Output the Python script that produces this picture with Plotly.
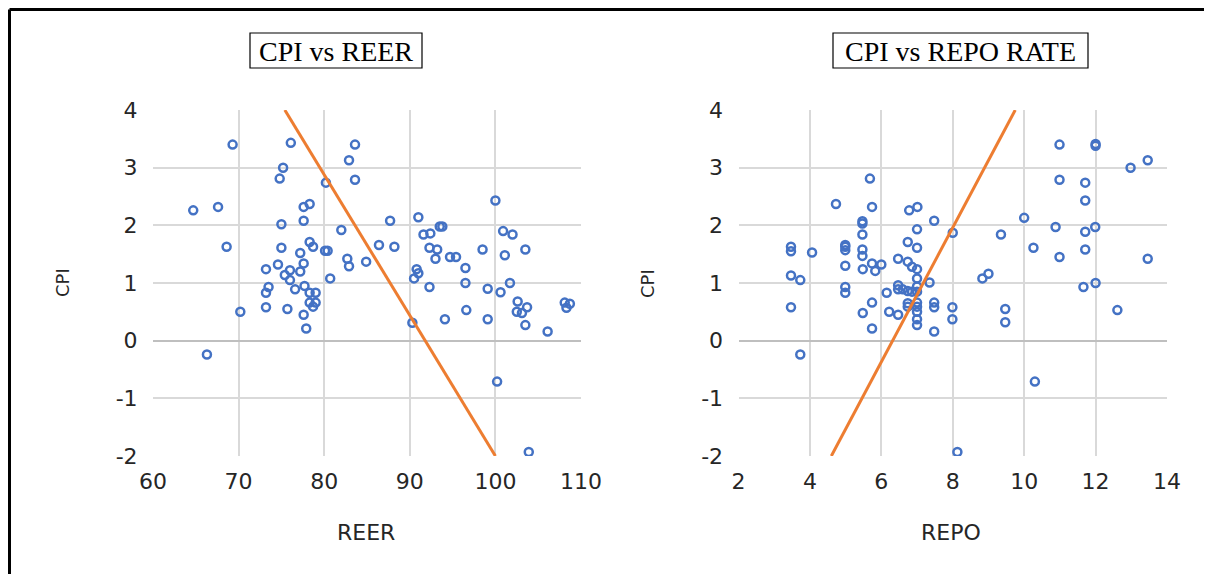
import plotly.graph_objects as go

# ---------------- data ----------------
reer = [69.3, 76.1, 83.6, 82.9, 75.2, 74.8, 80.2, 83.6, 64.7, 67.6, 77.6, 78.3, 77.6, 75.0, 82.0,
        86.4, 68.6, 75.0, 78.3, 78.7, 80.1, 80.4, 77.2, 82.7, 82.9, 84.9, 74.6, 77.6, 73.2, 76.0,
        75.4, 77.2, 76.0, 80.7, 73.5, 73.2, 76.6, 77.7, 78.3, 79.0, 78.3, 79.0, 78.7, 70.2, 73.2,
        75.7, 77.6, 77.9, 66.3, 100.0, 87.7, 91.0, 93.5, 93.8, 91.6, 92.4, 100.9, 102.0, 88.2, 92.3,
        93.2, 98.5, 103.5, 93.0, 94.7, 95.4, 101.1, 96.5, 90.8, 91.0, 90.5, 92.3, 96.5, 99.1, 101.7,
        100.6, 102.6, 103.7, 102.5, 103.1, 103.5, 106.1, 108.1, 108.7, 108.3, 96.6, 94.1, 99.1, 90.3,
        100.2, 103.9]
cpi_reer = [3.40, 3.43, 3.40, 3.13, 3.00, 2.81, 2.74, 2.79, 2.26, 2.32, 2.32, 2.37, 2.08, 2.02, 1.92,
            1.66, 1.63, 1.61, 1.71, 1.63, 1.56, 1.56, 1.52, 1.42, 1.29, 1.37, 1.32, 1.34, 1.24, 1.22,
            1.14, 1.20, 1.05, 1.08, 0.93, 0.83, 0.89, 0.95, 0.83, 0.83, 0.66, 0.66, 0.59, 0.50, 0.58,
            0.55, 0.45, 0.21, -0.24, 2.43, 2.08, 2.14, 1.98, 1.98, 1.84, 1.86, 1.90, 1.84, 1.63, 1.61,
            1.58, 1.58, 1.58, 1.42, 1.45, 1.45, 1.48, 1.26, 1.24, 1.17, 1.08, 0.93, 1.00, 0.90, 1.00,
            0.84, 0.68, 0.58, 0.50, 0.48, 0.27, 0.16, 0.66, 0.64, 0.57, 0.53, 0.37, 0.37, 0.31,
            -0.71, -1.93]

repo = [5.68, 4.73, 5.74, 6.78, 7.01, 7.48, 8.00, 5.47, 5.47, 5.47, 7.00, 6.74, 7.00, 3.47, 3.47,
        4.06, 4.99, 4.99, 4.99, 5.47, 5.47, 5.74, 6.00, 5.83, 4.99, 5.48, 6.47, 6.74, 6.86, 7.00,
        7.00, 7.35, 3.47, 3.73, 4.99, 4.99, 6.47, 6.47, 6.15, 6.60, 6.74, 6.86, 7.00, 7.00, 6.74,
        6.74, 7.00, 7.00, 7.48, 7.48, 7.99, 7.99, 3.47, 5.74, 5.48, 6.22, 6.47, 7.00, 7.00, 7.00,
        5.74, 7.48, 3.73, 8.13, 10.99, 12.00, 12.00, 12.98, 13.46, 10.99, 11.71, 11.71, 10.00, 10.88,
        11.71, 11.99, 9.35, 10.26, 11.71, 10.99, 13.46, 8.83, 9.00, 11.66, 12.00, 9.47, 9.47, 12.61,
        10.30]
cpi_repo = [2.81, 2.37, 2.32, 2.26, 2.32, 2.08, 1.87, 2.07, 2.03, 1.84, 1.93, 1.71, 1.61, 1.63, 1.55,
            1.53, 1.66, 1.63, 1.57, 1.58, 1.47, 1.34, 1.32, 1.21, 1.30, 1.24, 1.42, 1.37, 1.28, 1.24,
            1.08, 1.01, 1.13, 1.05, 0.93, 0.83, 0.96, 0.89, 0.83, 0.89, 0.86, 0.85, 0.94, 0.85, 0.65,
            0.59, 0.66, 0.59, 0.66, 0.58, 0.58, 0.37, 0.58, 0.66, 0.48, 0.50, 0.45, 0.50, 0.37, 0.27,
            0.21, 0.16, -0.24, -1.93, 3.40, 3.41, 3.38, 3.00, 3.13, 2.79, 2.74, 2.43, 2.13, 1.97,
            1.89, 1.97, 1.84, 1.61, 1.58, 1.45, 1.42, 1.08, 1.16, 0.93, 1.00, 0.55, 0.32, 0.53,
            -0.71]

reer_line_x = [75.4, 100.0]
reer_line_y = [4.0, -2.0]
repo_line_x = [4.6, 9.75]
repo_line_y = [-2.0, 4.0]

reer_ticks = [60, 70, 80, 90, 100, 110]
repo_ticks = [2, 4, 6, 8, 10, 12, 14]
cpi_ticks = [-2, -1, 0, 1, 2, 3, 4]
cpi_ticktext = ["-2", "-1", "0", "1", "2", "3", "4"]

# ---------------- styling ----------------
W, H = 1212, 574
OFF = 8  # page body margin compensation
BLUE = "#4472C4"
ORANGE = "#ED7D31"
GRID = "#D9D9D9"
TICKFONT = dict(family="DejaVu Sans, sans-serif", size=22, color="#262626")

def px_x(p):
    return (p - OFF) / W

def px_y(p):
    return 1 - (p - OFF) / H

fig = go.Figure()

marker = dict(symbol="circle-open", size=8, color=BLUE, line=dict(width=2.5, color=BLUE))

fig.add_trace(go.Scatter(x=reer, y=cpi_reer, mode="markers", marker=marker,
                         xaxis="x", yaxis="y", showlegend=False))
fig.add_trace(go.Scatter(x=reer_line_x, y=reer_line_y, mode="lines",
                         line=dict(color=ORANGE, width=3), xaxis="x", yaxis="y", showlegend=False))
fig.add_trace(go.Scatter(x=repo, y=cpi_repo, mode="markers", marker=marker,
                         xaxis="x2", yaxis="y2", showlegend=False))
fig.add_trace(go.Scatter(x=repo_line_x, y=repo_line_y, mode="lines",
                         line=dict(color=ORANGE, width=3), xaxis="x2", yaxis="y2", showlegend=False))

ydom = [px_y(456), px_y(110)]

def xaxis(dom, ticks, anchor):
    return dict(domain=dom, range=[ticks[0], ticks[-1]], tickvals=ticks, automargin=False,
                showgrid=False, zeroline=False, showline=False,
                ticks="outside", ticklen=6, tickcolor="rgba(0,0,0,0)",
                tickfont=TICKFONT, anchor=anchor,
                minor=dict(tickvals=ticks[1:-1], showgrid=True, gridcolor=GRID, gridwidth=1.5, ticks=""))

def yaxis(ticks, anchor):
    return dict(domain=ydom, range=[ticks[0], ticks[-1]], tickvals=ticks, ticktext=cpi_ticktext,
                automargin=False,
                showgrid=False, zeroline=True, zerolinecolor="#BFBFBF", zerolinewidth=2,
                showline=False, ticks="outside", ticklen=10, tickcolor="rgba(0,0,0,0)",
                tickfont=TICKFONT, anchor=anchor,
                minor=dict(tickvals=[t for t in ticks[1:-1] if t != 0], showgrid=True,
                           gridcolor=GRID, gridwidth=1.5, ticks=""))

fig.update_layout(
    width=W, height=H, autosize=False,
    margin=dict(l=0, r=0, t=0, b=0, pad=0, autoexpand=False),
    paper_bgcolor="white", plot_bgcolor="white",
    xaxis=xaxis([px_x(153), px_x(581)], reer_ticks, "y"),
    yaxis=yaxis(cpi_ticks, "x"),
    xaxis2=xaxis([px_x(738.5), px_x(1167)], repo_ticks, "y2"),
    yaxis2=yaxis(cpi_ticks, "x2"),
)

TITLEFONT = dict(family="Liberation Serif, serif", size=28, color="black")
XLABELFONT = dict(family="DejaVu Sans, sans-serif", size=22, color="#262626")
YLABELFONT = dict(family="DejaVu Sans, sans-serif", size=18, color="#262626")

titles = [
    dict(text="CPI vs REER", cx=336, box=(250, 33, 422, 68)),
    dict(text="CPI vs REPO RATE", cx=960.5, box=(833, 33, 1088, 68)),
]
for t in titles:
    x0, y0, x1, y1 = t["box"]
    fig.add_shape(type="rect", xref="paper", yref="paper",
                  x0=px_x(x0), x1=px_x(x1), y0=px_y(y1), y1=px_y(y0),
                  line=dict(color="black", width=1.2), fillcolor="white", layer="below")
    fig.add_annotation(text=t["text"], x=px_x(t["cx"]), y=px_y((y0 + y1) / 2 + 1), xref="paper", yref="paper",
                       showarrow=False, font=TITLEFONT, xanchor="center", yanchor="middle")

fig.add_annotation(text="REER", x=px_x(366), y=px_y(532), xref="paper", yref="paper",
                   showarrow=False, font=XLABELFONT, xanchor="center", yanchor="middle")
fig.add_annotation(text="REPO", x=px_x(951), y=px_y(532), xref="paper", yref="paper",
                   showarrow=False, font=XLABELFONT, xanchor="center", yanchor="middle")
fig.add_annotation(text="CPI", x=px_x(63), y=px_y(283), xref="paper", yref="paper",
                   showarrow=False, font=YLABELFONT, textangle=-90, xanchor="center", yanchor="middle")
fig.add_annotation(text="CPI", x=px_x(648), y=px_y(283), xref="paper", yref="paper",
                   showarrow=False, font=YLABELFONT, textangle=-90, xanchor="center", yanchor="middle")

# outer frame (top and left edges visible)
FR = 9.5
fig.add_shape(type="line", xref="paper", yref="paper", x0=px_x(FR), x1=1.0, y0=px_y(FR), y1=px_y(FR),
              line=dict(color="black", width=3))
fig.add_shape(type="line", xref="paper", yref="paper", x0=px_x(FR), x1=px_x(FR), y0=0, y1=px_y(FR),
              line=dict(color="black", width=3))

fig.write_html("out.html")
